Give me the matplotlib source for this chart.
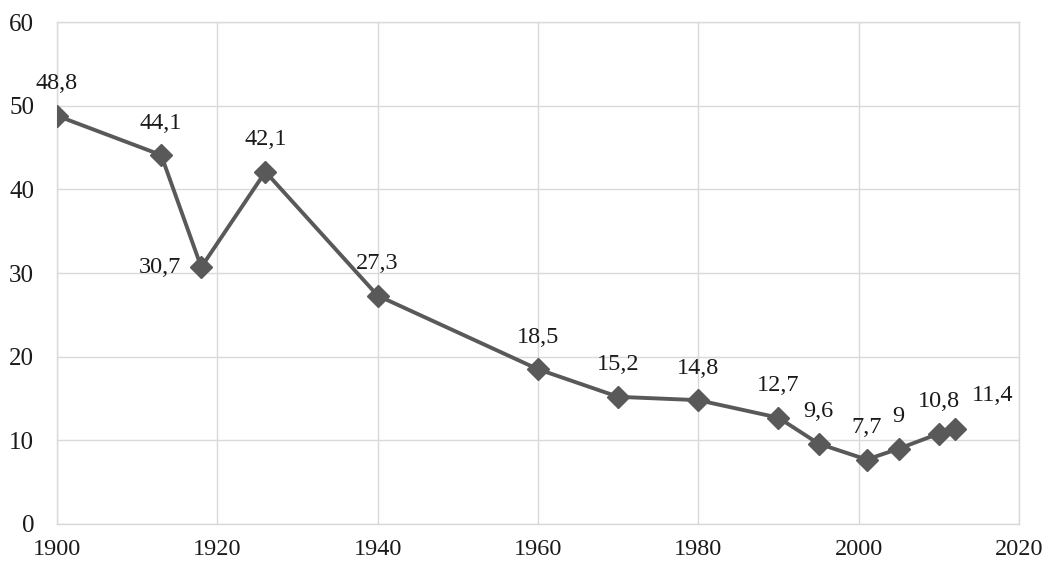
import matplotlib
matplotlib.use("Agg")
import matplotlib.pyplot as plt

# data
years = [1900, 1913, 1918, 1926, 1940, 1960, 1970, 1980, 1990, 1995, 2001, 2005, 2010, 2012]
values = [48.8, 44.1, 30.7, 42.1, 27.3, 18.5, 15.2, 14.8, 12.7, 9.6, 7.7, 9.0, 10.8, 11.4]
labels = ["48,8", "44,1", "30,7", "42,1", "27,3", "18,5", "15,2", "14,8",
          "12,7", "9,6", "7,7", "9", "10,8", "11,4"]
x_ticks = [1900, 1920, 1940, 1960, 1980, 2000, 2020]
y_ticks = [0, 10, 20, 30, 40, 50, 60]

plt.rcParams['font.family'] = ['Liberation Serif', 'DejaVu Serif']

fig = plt.figure(figsize=(10.49, 5.65), dpi=100)
ax = fig.add_axes([0.0543, 0.0726, 0.9171, 0.8884])

line_col = "#595959"
ax.plot(years, values, color=line_col, lw=2.8, marker="D", markersize=11,
        markerfacecolor=line_col, markeredgecolor=line_col, zorder=3)

# data labels (offsets in points)
offsets = {2: (-30, 0), 13: (27, 24)}
for x, y, lab, i in zip(years, values, labels, range(len(years))):
    dx, dy = offsets.get(i, (0, 23))
    ax.annotate(lab, (x, y), xytext=(dx, dy), textcoords="offset points",
                ha="center", va="center", fontsize=17.5, color="#1a1a1a")

ax.set_xlim(1900, 2020)
ax.set_ylim(0, 60)
ax.set_xticks(x_ticks)
ax.set_yticks(y_ticks)
ax.grid(True, color="#d9d9d9", lw=1)
ax.set_axisbelow(True)
for s in ax.spines.values():
    s.set_color("#d9d9d9")
    s.set_linewidth(1)
ax.tick_params(axis="both", length=0, labelsize=18, colors="#1a1a1a")
ax.tick_params(axis="x", pad=11, labelsize=17.5)
ax.tick_params(axis="y", pad=16.5)

fig.savefig("out.png", dpi=100)
